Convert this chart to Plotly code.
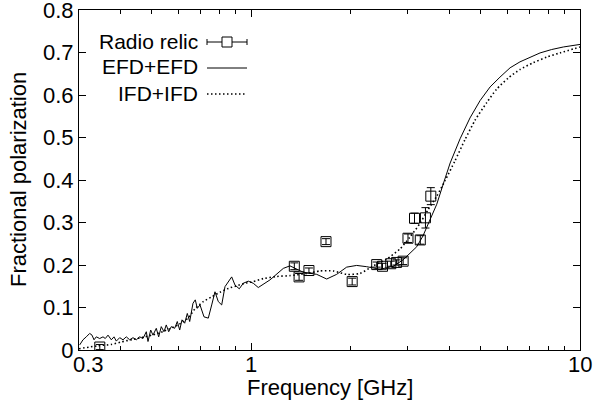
import numpy as np
import plotly.graph_objects as go

# ---------------- data ----------------
relic_freq = [0.347, 1.354, 1.40, 1.50, 1.69, 2.03, 2.41, 2.51, 2.66, 2.77, 2.90, 3.00, 3.14, 3.27, 3.39, 3.52]
relic_pol = [0.007, 0.197, 0.172, 0.187, 0.255, 0.161, 0.201, 0.197, 0.203, 0.206, 0.209, 0.263, 0.310, 0.259, 0.311, 0.362]
relic_err = [0.006, 0.008, 0.008, 0.006, 0.007, 0.008, 0.006, 0.007, 0.006, 0.006, 0.008, 0.010, 0.012, 0.010, 0.024, 0.020]

efd_freq = [0.3015, 0.3085, 0.3157, 0.3233, 0.3286, 0.3332, 0.3386, 0.3468, 0.3549, 0.3606,
            0.3675, 0.3761, 0.3833, 0.3895, 0.3989, 0.4082, 0.4177, 0.4278, 0.4378, 0.4480,
            0.4588, 0.4695, 0.4805, 0.4862, 0.4955, 0.5035, 0.5153, 0.5240, 0.5336, 0.5438,
            0.5526, 0.5620, 0.5723, 0.5861, 0.5969, 0.6070, 0.6169, 0.6286, 0.6402, 0.6510,
            0.6662, 0.6770, 0.6866, 0.6997, 0.7196, 0.7415, 0.7594, 0.7771, 0.7952, 0.8144,
            0.8334, 0.8529, 0.8734, 0.8938, 0.9211, 0.9472, 0.9809, 1.0159, 1.0520, 1.142,
            1.2535, 1.313, 1.4417, 1.5838, 1.6984, 1.8212, 1.953, 2.0949, 2.247, 2.466,
            2.707, 2.897, 3.043, 3.19, 3.33, 3.50, 3.67, 3.83, 4.03, 4.32,
            4.63, 4.97, 5.33, 5.71, 6.13, 6.57, 7.05, 7.56, 8.2, 8.9, 10.0]
efd_pol = [0.012, 0.024, 0.031, 0.039, 0.035, 0.024, 0.031, 0.027, 0.031, 0.027,
           0.035, 0.024, 0.031, 0.021, 0.029, 0.024, 0.031, 0.024, 0.029, 0.024,
           0.031, 0.027, 0.043, 0.020, 0.047, 0.035, 0.051, 0.031, 0.055, 0.043,
           0.059, 0.043, 0.055, 0.051, 0.067, 0.047, 0.071, 0.063, 0.086, 0.067,
           0.110, 0.118, 0.098, 0.106, 0.078, 0.075, 0.106, 0.137, 0.114, 0.106,
           0.149, 0.161, 0.172, 0.153, 0.144, 0.157, 0.162, 0.157, 0.147, 0.165,
           0.192, 0.198, 0.183, 0.178, 0.167, 0.178, 0.195, 0.199, 0.196, 0.190,
           0.197, 0.212, 0.228, 0.243, 0.268, 0.305, 0.343, 0.388, 0.440, 0.497,
           0.546, 0.587, 0.619, 0.642, 0.664, 0.678, 0.689, 0.699, 0.707, 0.713, 0.719]

ifd_freq = [0.3, 0.3427, 0.3761, 0.4034, 0.4378, 0.4751, 0.511, 0.5465, 0.5998, 0.6433,
            0.6756, 0.716, 0.7594, 0.805, 0.8529, 0.9045, 0.959, 1.0159, 1.0895, 1.1968,
            1.313, 1.4764, 1.62, 1.7784, 1.953, 2.144, 2.3531, 2.5847, 2.837, 3.043,
            3.264, 3.451, 3.67, 3.886, 4.168, 4.471, 4.80, 5.205, 5.582, 6.052,
            6.57, 7.211, 7.92, 8.69, 10.0]
ifd_pol = [0.003, 0.010, 0.013, 0.019, 0.025, 0.031, 0.037, 0.045, 0.059, 0.075,
           0.097, 0.114, 0.125, 0.136, 0.145, 0.151, 0.157, 0.161, 0.168, 0.173,
           0.175, 0.180, 0.186, 0.186, 0.178, 0.180, 0.198, 0.214, 0.238, 0.266,
           0.298, 0.330, 0.362, 0.398, 0.445, 0.495, 0.541, 0.582, 0.614, 0.640,
           0.660, 0.676, 0.689, 0.699, 0.713]

x_ticks = [0.3, 1, 10]
x_ticktext = ["0.3", "1", "10"]
x_minor = [0.4, 0.5, 0.6, 0.7, 0.8, 0.9, 2, 3, 4, 5, 6, 7, 8, 9]
y_ticks = [0, 0.1, 0.2, 0.3, 0.4, 0.5, 0.6, 0.7, 0.8]
y_ticktext = ["0", "0.1", "0.2", "0.3", "0.4", "0.5", "0.6", "0.7", "0.8"]
legend_names = ["Radio relic", "EFD+EFD", "IFD+IFD"]

FONT = "Liberation Sans, Arial, sans-serif"
DOT = "1.5px,2.5px"

fig = go.Figure()
fig.add_trace(go.Scatter(x=efd_freq, y=efd_pol, mode="lines",
                         line=dict(color="black", width=1), showlegend=False))
fig.add_trace(go.Scatter(x=ifd_freq, y=ifd_pol, mode="lines",
                         line=dict(color="black", width=1.6, dash=DOT, shape="spline", smoothing=0.6),
                         showlegend=False))
fig.add_trace(go.Scatter(x=relic_freq, y=relic_pol, mode="markers",
                         marker=dict(symbol="square-open", size=10, color="black", line=dict(width=1)),
                         error_y=dict(type="data", array=relic_err, color="black", thickness=1, width=4),
                         showlegend=False))

# ---- manual gnuplot-style legend (text left, sample right) ----
W, H = 598, 410
L, R, T, B = 79, 18, 10, 60
pw, ph = W - L - R, H - T - B

def px(x):
    return (x - L) / pw

def py(y):
    return (H - B - y) / ph

rows = [42, 68, 94]
text_right = 200
s0, s1 = 207, 247
shapes = []
annotations = []
for name, yy in zip(legend_names, rows):
    annotations.append(dict(x=px(text_right), y=py(yy - 1), xref="paper", yref="paper",
                            text=name, showarrow=False, xanchor="right", yanchor="middle",
                            font=dict(family=FONT, size=21, color="black")))
yy = rows[0]
shapes.append(dict(type="line", xref="paper", yref="paper", x0=px(s0), x1=px(s1), y0=py(yy), y1=py(yy),
                   line=dict(color="black", width=1)))
for xx in (s0, s1):
    shapes.append(dict(type="line", xref="paper", yref="paper", x0=px(xx), x1=px(xx), y0=py(yy - 3), y1=py(yy + 3),
                       line=dict(color="black", width=1)))
shapes.append(dict(type="rect", xref="paper", yref="paper", x0=px(222), x1=px(232), y0=py(yy - 5), y1=py(yy + 5),
                   line=dict(color="black", width=1), fillcolor="white"))
shapes.append(dict(type="line", xref="paper", yref="paper", x0=px(s0), x1=px(s1), y0=py(rows[1]), y1=py(rows[1]),
                   line=dict(color="black", width=1)))
shapes.append(dict(type="line", xref="paper", yref="paper", x0=px(s0), x1=px(s1), y0=py(rows[2]), y1=py(rows[2]),
                   line=dict(color="black", width=1.6, dash=DOT)))

# x tick labels (placed like gnuplot, closer to the axis)
log_lo = np.log10(0.3)
for v, t in zip(x_ticks, x_ticktext):
    xp = (np.log10(v) - log_lo) / (1 - log_lo)
    shift = 9 if v == 0.3 else 0
    annotations.append(dict(x=xp, y=py(364), xref="paper", yref="paper", text=t, xshift=shift,
                            showarrow=False, xanchor="center", yanchor="middle",
                            font=dict(family=FONT, size=22, color="black")))

# axis titles
annotations.append(dict(x=0.5, y=py(387), xref="paper", yref="paper", text="Frequency [GHz]",
                        showarrow=False, xanchor="center", yanchor="middle",
                        font=dict(family=FONT, size=22, color="black")))
annotations.append(dict(x=px(18), y=py(180), xref="paper", yref="paper", text="Fractional polarization",
                        showarrow=False, xanchor="center", yanchor="middle", textangle=-90,
                        font=dict(family=FONT, size=22, color="black")))

fig.update_layout(
    width=W, height=H,
    margin=dict(l=L, r=R, t=T, b=B, pad=0),
    paper_bgcolor="white", plot_bgcolor="white",
    font=dict(family=FONT, size=22, color="black"),
    shapes=shapes, annotations=annotations,
    xaxis=dict(type="log", range=[log_lo, 1], tickvals=x_ticks, showticklabels=False,
               ticks="inside", ticklen=7, tickwidth=1, tickcolor="black",
               showline=True, linecolor="black", linewidth=1, mirror="ticks",
               showgrid=False, zeroline=False, automargin=False,
               minor=dict(tickvals=x_minor, ticks="inside", ticklen=4, tickwidth=1, tickcolor="black", showgrid=False)),
    yaxis=dict(range=[0, 0.8], tickvals=y_ticks, ticktext=y_ticktext,
               ticks="inside", ticklen=7, tickwidth=1, tickcolor="black",
               showline=True, linecolor="black", linewidth=1, mirror="ticks",
               showgrid=False, zeroline=False, ticklabeloverflow="allow", automargin=False,
               tickfont=dict(family=FONT, size=22)),
)

fig.write_html("out.html")
